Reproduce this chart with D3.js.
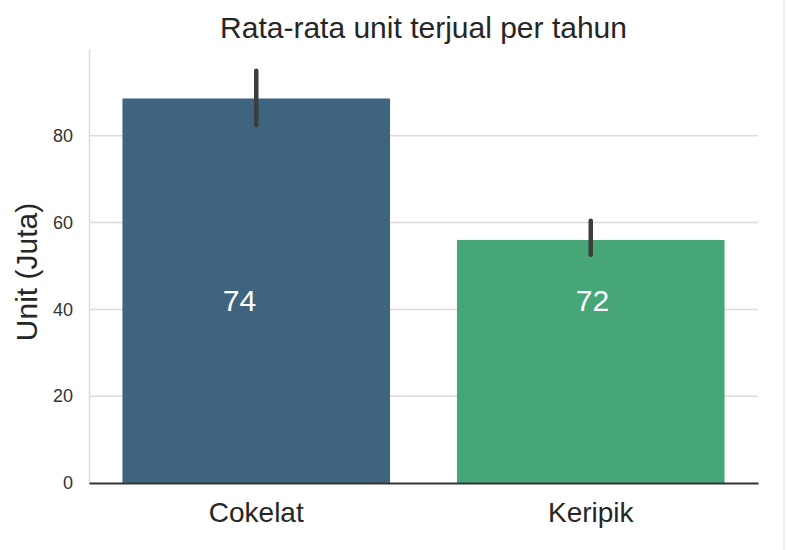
<!DOCTYPE html>
<html>
<head>
<meta charset="utf-8">
<script src="https://cdn.jsdelivr.net/npm/d3@7"></script>
<style>
  body { margin: 0; background: #fff; }
  svg { font-family: "Liberation Sans", Arial, sans-serif; }
</style>
</head>
<body>
<div id="chart"></div>
<script>
// Data
var categories = ["Cokelat", "Keripik"];
var meanValues = [88.6, 56.0];
var ciLow = [82.5, 52.6];
var ciHigh = [95.0, 60.4];
var barLabels = ["74", "72"];
var yTicks = [0, 20, 40, 60, 80];

var colors = ["#3e6480", "#47a677"];

var W = 786, H = 550;
var margin = {left: 89, right: 28, top: 49, bottom: 67};
var width = W - margin.left - margin.right;
var height = H - margin.top - margin.bottom;

var svg = d3.select("#chart").append("svg")
    .attr("width", W)
    .attr("height", H);

// faint frame on the right edge, as in the screenshot
svg.append("line")
    .attr("x1", W - 2).attr("x2", W - 2)
    .attr("y1", 0).attr("y2", H)
    .attr("stroke", "#ececec")
    .attr("stroke-width", 1.5);

var chart = svg.append("g")
    .attr("transform", "translate(" + margin.left + "," + margin.top + ")");

var x = d3.scaleBand()
    .domain(categories)
    .range([0, width])
    .paddingInner(0.2)
    .paddingOuter(0.1);

var y = d3.scaleLinear()
    .domain([0, 100])
    .range([height, 0]);

// Grid lines
chart.append("g")
    .selectAll("line")
    .data(yTicks.filter(function (d) { return d > 0; }))
    .enter()
    .append("line")
    .attr("x1", 0).attr("x2", width)
    .attr("y1", function (d) { return y(d); })
    .attr("y2", function (d) { return y(d); })
    .attr("stroke", "#dcdcdc")
    .attr("stroke-width", 1.5);

// Y axis (no tick marks, light spine)
var yAxis = d3.axisLeft(y).tickValues(yTicks).tickSize(0).tickPadding(16);
var gy = chart.append("g").call(yAxis);
gy.select(".domain").attr("stroke", "#dcdcdc").attr("stroke-width", 1.5);
gy.selectAll("text")
    .style("font-size", "18px")
    .attr("fill", "#333");

// Bars
chart.append("g")
    .selectAll("rect")
    .data(categories)
    .enter()
    .append("rect")
    .attr("x", function (d) { return x(d); })
    .attr("width", x.bandwidth())
    .attr("y", function (d, i) { return y(meanValues[i]); })
    .attr("height", function (d, i) { return height - y(meanValues[i]); })
    .attr("fill", function (d, i) { return colors[i]; });

// Error bars
chart.append("g")
    .selectAll("line")
    .data(categories)
    .enter()
    .append("line")
    .attr("x1", function (d) { return x(d) + x.bandwidth() / 2; })
    .attr("x2", function (d) { return x(d) + x.bandwidth() / 2; })
    .attr("y1", function (d, i) { return y(ciLow[i]); })
    .attr("y2", function (d, i) { return y(ciHigh[i]); })
    .attr("stroke", "#3d3d3d")
    .attr("stroke-width", 4.5)
    .attr("stroke-linecap", "round");

// Labels inside the bars (nudged a little like the original)
var labelShift = [-0.05, 0.005];
chart.append("g")
    .selectAll("text")
    .data(categories)
    .enter()
    .append("text")
    .attr("x", function (d, i) {
        return x(d) + x.bandwidth() / 2 + labelShift[i] * x.step();
    })
    .attr("y", y(42))
    .attr("dy", "0.35em")
    .attr("text-anchor", "middle")
    .attr("fill", "#fff")
    .style("font-size", "30px")
    .text(function (d, i) { return barLabels[i]; });

// X axis (dark bottom spine, no ticks)
var xAxis = d3.axisBottom(x).tickSize(0).tickPadding(19).tickSizeOuter(0);
var gx = chart.append("g")
    .attr("transform", "translate(0," + height + ")")
    .call(xAxis);
gx.select(".domain").attr("stroke", "#333").attr("stroke-width", 2);
gx.selectAll("text")
    .style("font-size", "28px")
    .attr("fill", "#262626");

// Title
svg.append("text")
    .attr("x", margin.left + width / 2)
    .attr("y", 38)
    .attr("text-anchor", "middle")
    .attr("fill", "#262626")
    .style("font-size", "30px")
    .text("Rata-rata unit terjual per tahun");

// Y label
svg.append("text")
    .attr("transform", "translate(37,272) rotate(-90)")
    .attr("text-anchor", "middle")
    .attr("fill", "#262626")
    .style("font-size", "30px")
    .text("Unit (Juta)");
</script>
</body>
</html>
